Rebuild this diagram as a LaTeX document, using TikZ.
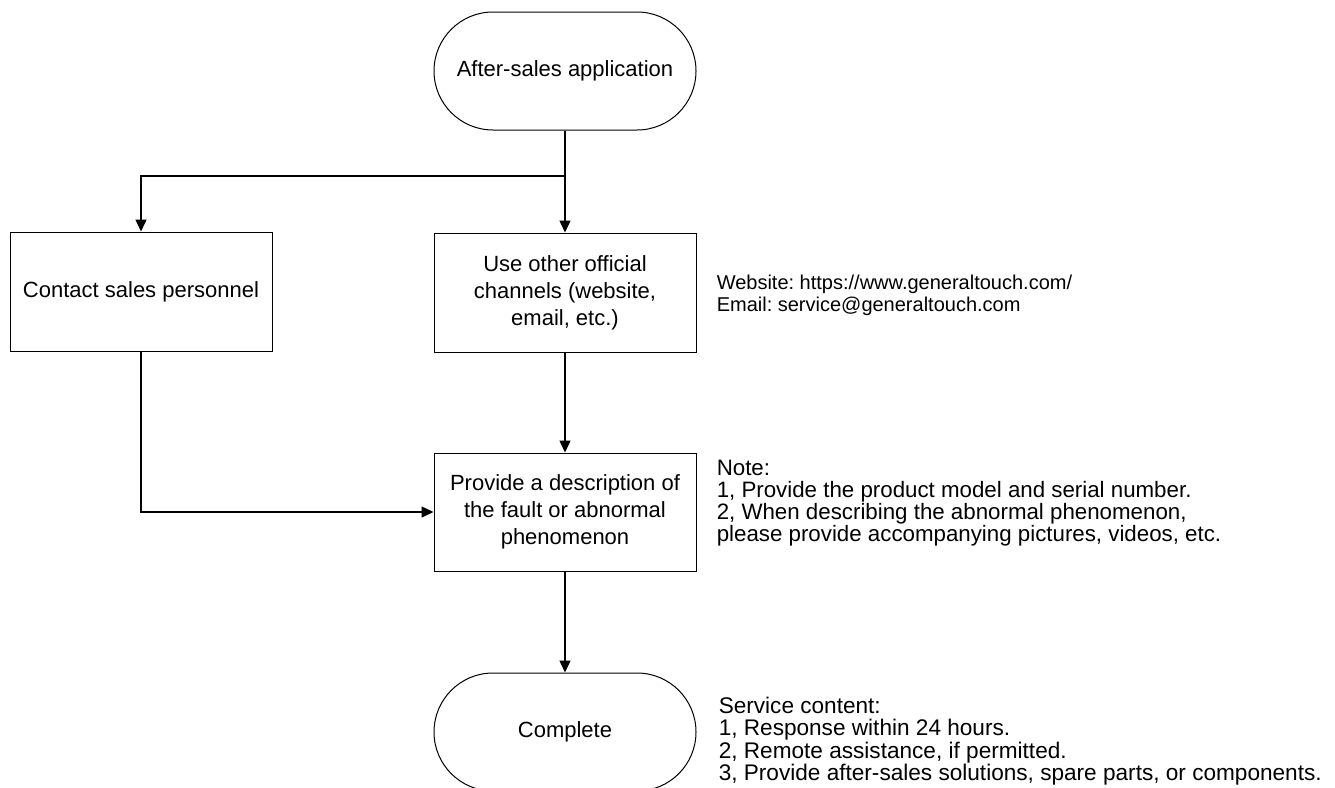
\documentclass[tikz,border=0pt]{standalone}
\usepackage{fontspec}
\setmainfont{Liberation Sans}
\usepackage{tikz}
\usetikzlibrary{arrows.meta}
\frenchspacing

\begin{document}
\begin{tikzpicture}[x=1pt, y=-1pt, >={Triangle[length=12pt,width=11pt]}]
\tikzstyle{stepbox}=[draw, line width=1pt, minimum width=262pt, minimum height=119pt, align=center, font=\fontsize{22}{27}\selectfont, inner sep=2pt];
\tikzstyle{terminal}=[stepbox, rounded corners=59pt, minimum height=118pt];
\tikzstyle{remark}=[anchor=west, align=left, inner sep=0pt, font=\fontsize{22.3}{22.2}\selectfont];
\tikzstyle{every path}=[line width=1.5pt];
\useasboundingbox (0,0) rectangle (1335,787);
\path (565,71) node[terminal] (app) {After-sales application};
\path (141,291.5) node[stepbox] (contact) {Contact sales personnel};
\path (565,292.5) node[stepbox] (official) {Use other official\\channels (website,\\email, etc.)};
\path (565,512) node[stepbox, minimum height=118pt] (desc) {Provide a description of\\the fault or abnormal\\phenomenon};
\path (565,732) node[terminal] (done) {Complete};
\path (716,295) node[remark, font=\fontsize{20}{22}\selectfont] (web) {Website: https://www.generaltouch.com/\\Email: service@generaltouch.com};
\path (716,503) node[remark] (note) {Note:\\1, Provide the product model and serial number.\\2, When describing the abnormal phenomenon,\\please provide accompanying pictures, videos, etc.};
\path (718,741) node[remark, font=\fontsize{22.6}{22.4}\selectfont] (service) {Service content:\\1, Response within 24 hours.\\2, Remote assistance, if permitted.\\3, Provide after-sales solutions, spare parts, or components.};
\coordinate (split) at (565,176);
\path[->] (app) edge (official);
\draw[->] (split) -| (contact.north);
\path[->] (official) edge (desc);
\draw[->] (contact.south) |- (desc.west);
\path[->] (desc) edge (done);
\end{tikzpicture}
\end{document}
